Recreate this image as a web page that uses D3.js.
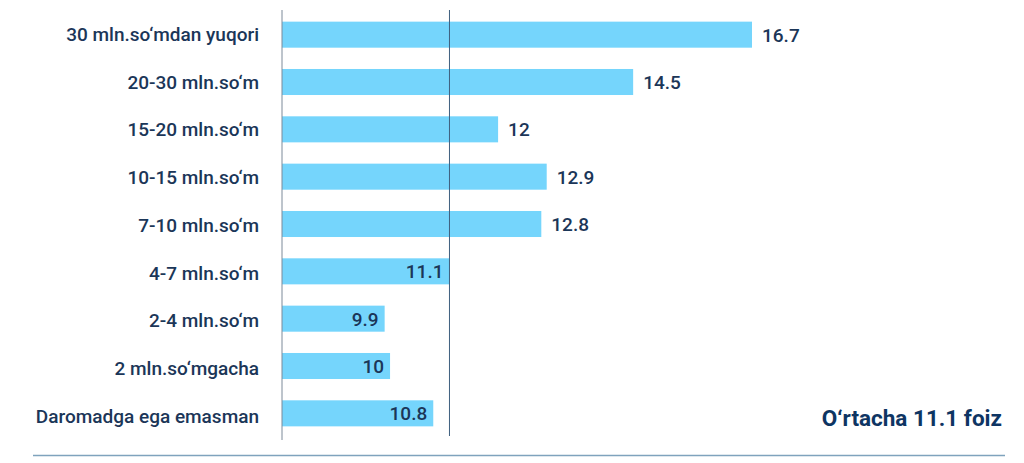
<!DOCTYPE html>
<html>
<head>
<meta charset="utf-8">
<script src="https://cdn.jsdelivr.net/npm/d3@7"></script>
<style>
  html, body { margin: 0; padding: 0; background: #fff; }
  svg { display: block; font-family: Roboto, "Noto Sans", sans-serif; }
</style>
</head>
<body>
<svg id="chart" width="1024" height="463"></svg>
<script>
const categories = [
  "30 mln.so‘mdan yuqori",
  "20-30 mln.so‘m",
  "15-20 mln.so‘m",
  "10-15 mln.so‘m",
  "7-10 mln.so‘m",
  "4-7 mln.so‘m",
  "2-4 mln.so‘m",
  "2 mln.so‘mgacha",
  "Daromadga ega emasman"
];
const values = [16.7, 14.5, 12, 12.9, 12.8, 11.1, 9.9, 10, 10.8];
const meanValue = 11.1;
const meanLabel = "O‘rtacha 11.1 foiz";

const svg = d3.select("#chart");
const x = d3.scaleLinear().domain([8, 16.7]).range([282, 752]);
const y = d3.scaleBand().domain(categories).range([11, 437]).paddingInner(0.45).paddingOuter(0.225);
const yLab = d3.scalePoint().domain(categories).range([34, 416]);

const barColor = "#75d5fc";
const textColor = "#1b3658";

// bars
svg.append("g").selectAll("rect")
  .data(values)
  .join("rect")
  .attr("x", x(8))
  .attr("y", (d, i) => y(categories[i]))
  .attr("width", d => x(d) - x(8))
  .attr("height", y.bandwidth())
  .attr("fill", barColor);

// baseline axis
svg.append("line")
  .attr("x1", x(8)).attr("x2", x(8))
  .attr("y1", 10).attr("y2", 440)
  .attr("stroke", "#7d8a99").attr("stroke-width", 1);

// mean line
svg.append("line")
  .attr("x1", x(meanValue)).attr("x2", x(meanValue))
  .attr("y1", 10).attr("y2", 436)
  .attr("stroke", "#3f5f7f").attr("stroke-width", 1);

// category labels
svg.append("g").selectAll("text")
  .data(categories)
  .join("text")
  .attr("x", 259)
  .attr("y", d => yLab(d))
  .attr("dy", "0.36em")
  .attr("text-anchor", "end")
  .attr("font-size", 19)
  .attr("font-weight", 500)
  .attr("fill", textColor)
  .text(d => d);

// value labels
svg.append("g").selectAll("text")
  .data(values)
  .join("text")
  .attr("x", d => d > meanValue ? x(d) + 10 : x(d) - 6)
  .attr("y", (d, i) => y(categories[i]) + y.bandwidth() / 2)
  .attr("dy", "0.36em")
  .attr("text-anchor", d => d > meanValue ? "start" : "end")
  .attr("font-size", 19)
  .attr("font-weight", 500)
  .attr("fill", textColor)
  .text(d => d);

// mean annotation
svg.append("text")
  .attr("x", 1002)
  .attr("y", 426)
  .attr("text-anchor", "end")
  .attr("font-size", 22.5)
  .attr("font-weight", 700)
  .attr("fill", "#0e3563")
  .text(meanLabel);

// bottom rule
svg.append("line")
  .attr("x1", 33).attr("x2", 1005)
  .attr("y1", 455.5).attr("y2", 455.5)
  .attr("stroke", "#7fa3bd").attr("stroke-width", 1.5);
</script>
</body>
</html>
